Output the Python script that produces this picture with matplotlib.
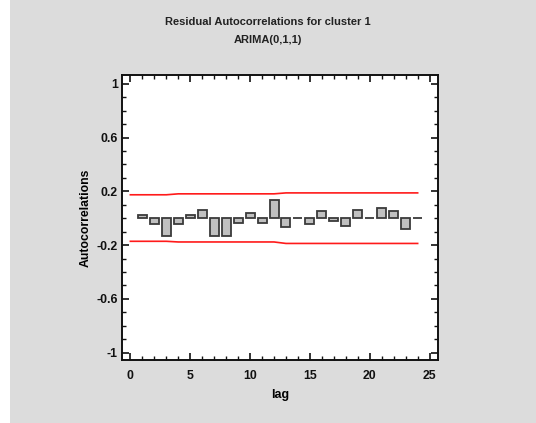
import numpy as np
import matplotlib
matplotlib.use('Agg')
import matplotlib.pyplot as plt
from matplotlib.patches import Rectangle
from matplotlib.ticker import MultipleLocator, FixedLocator

plt.rcParams['font.family'] = ['Liberation Sans Narrow', 'Liberation Sans', 'DejaVu Sans']
plt.rcParams['font.weight'] = 'bold'

# residual autocorrelations by lag
lags = list(range(1, 25))
acf = [0.025, -0.047, -0.129, -0.047, 0.025, 0.062, -0.129, -0.129,
       -0.037, 0.037, -0.037, 0.134, -0.067, 0.004, -0.047, 0.055,
       -0.020, -0.055, 0.062, 0.004, 0.072, 0.055, -0.084, 0.0]

# probability limits at lags 0..24
limit_lags = list(range(0, 25))
upper = [0.174] * 4 + [0.181] * 9 + [0.188] * 12
lower = [-0.172] * 4 + [-0.177] * 9 + [-0.188] * 12

fig = plt.figure(figsize=(5.36, 4.23), dpi=100, facecolor='white')
bg = Rectangle((10 / 536, 0), 1, 1, transform=fig.transFigure,
               facecolor='#dcdcdc', edgecolor='none', zorder=-5)
fig.patches.append(bg)

ax = fig.add_axes([122 / 536, 1 - 360 / 423, 316 / 536, 285 / 423])
ax.set_facecolor('white')

ax.bar(lags, acf, width=0.75, color='#c0c0c0', edgecolor='#3a3a3a', linewidth=1.3, zorder=3)
ax.plot(limit_lags, upper, color='#ff1a1a', lw=1.2, zorder=2)
ax.plot(limit_lags, lower, color='#ff1a1a', lw=1.2, zorder=2)

ax.set_xlim(-0.7, 25.7)
ax.set_ylim(-1.055, 1.065)
ax.xaxis.set_major_locator(MultipleLocator(5))
ax.xaxis.set_minor_locator(MultipleLocator(1))
ax.yaxis.set_major_locator(FixedLocator([-1, -0.6, -0.2, 0.2, 0.6, 1]))
ax.yaxis.set_minor_locator(FixedLocator(np.round(np.arange(-1, 1.01, 0.1), 2)))
ax.set_yticklabels(['-1', '-0.6', '-0.2', '0.2', '0.6', '1'])

ax.tick_params(which='both', direction='in', top=True, right=True, colors='#111111',
               labelsize=8.8)
ax.tick_params(which='major', length=5, width=1.2)
ax.tick_params(which='minor', length=3, width=1.0)
ax.tick_params(axis='x', pad=7)
ax.tick_params(axis='y', pad=3)
for s in ax.spines.values():
    s.set_linewidth(1.4)
    s.set_color('#111111')

ax.set_xlabel('lag', fontsize=9, fontweight='bold', labelpad=5)
ax.set_ylabel('Autocorrelations', fontsize=8.8, fontweight='bold', labelpad=3)

fig.text(0.5, 1 - 22 / 423, 'Residual Autocorrelations for cluster 1', ha='center', va='center',
         fontsize=8, fontweight='bold', color='#222222')
fig.text(0.5, 1 - 40 / 423, 'ARIMA(0,1,1)', ha='center', va='center',
         fontsize=8, fontweight='bold', color='#222222')

fig.savefig('out.png', dpi=100, facecolor=fig.get_facecolor())
